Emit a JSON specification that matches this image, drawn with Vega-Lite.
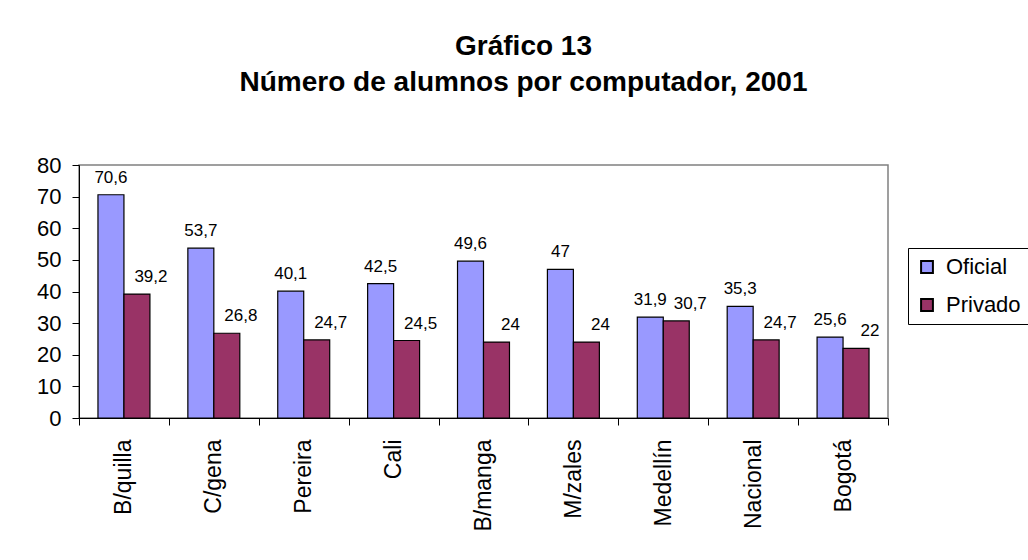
{
  "$schema": "https://vega.github.io/schema/vega-lite/v6.json",
  "autosize": {"type": "none"},
  "width": 809,
  "height": 253,
  "padding": {"left": 79, "top": 165, "right": 140, "bottom": 142},
  "background": "white",
  "config": {
    "font": "Liberation Sans",
    "locale": {"number": {"decimal": ",", "thousands": ".", "grouping": [3], "currency": ["$", ""]}},
    "view": {"stroke": "#808080", "strokeWidth": 1.5}
  },
  "title": {
    "text": ["Gráfico 13", "Número de alumnos por computador, 2001"],
    "font": "Liberation Sans",
    "fontSize": 28,
    "fontWeight": "bold",
    "color": "black",
    "anchor": "middle",
    "dx": 40,
    "lineHeight": 36,
    "offset": 57
  },
  "data": {
    "values": [
      {"ciudad": "B/quilla", "tipo": "Oficial", "valor": 70.6},
      {"ciudad": "B/quilla", "tipo": "Privado", "valor": 39.2},
      {"ciudad": "C/gena", "tipo": "Oficial", "valor": 53.7},
      {"ciudad": "C/gena", "tipo": "Privado", "valor": 26.8},
      {"ciudad": "Pereira", "tipo": "Oficial", "valor": 40.1},
      {"ciudad": "Pereira", "tipo": "Privado", "valor": 24.7},
      {"ciudad": "Cali", "tipo": "Oficial", "valor": 42.5},
      {"ciudad": "Cali", "tipo": "Privado", "valor": 24.5},
      {"ciudad": "B/manga", "tipo": "Oficial", "valor": 49.6},
      {"ciudad": "B/manga", "tipo": "Privado", "valor": 24},
      {"ciudad": "M/zales", "tipo": "Oficial", "valor": 47},
      {"ciudad": "M/zales", "tipo": "Privado", "valor": 24},
      {"ciudad": "Medellín", "tipo": "Oficial", "valor": 31.9},
      {"ciudad": "Medellín", "tipo": "Privado", "valor": 30.7},
      {"ciudad": "Nacional", "tipo": "Oficial", "valor": 35.3},
      {"ciudad": "Nacional", "tipo": "Privado", "valor": 24.7},
      {"ciudad": "Bogotá", "tipo": "Oficial", "valor": 25.6},
      {"ciudad": "Bogotá", "tipo": "Privado", "valor": 22}
    ]
  },
  "encoding": {
    "x": {
      "field": "ciudad", "type": "nominal", "sort": null,
      "scale": {"paddingInner": 0, "paddingOuter": 0},
      "axis": {
        "title": null, "labelAngle": -90, "labelFontSize": 23, "labelColor": "black",
        "tickBand": "extent", "tickSize": 7, "tickColor": "black", "domainColor": "black",
        "labelPadding": 14
      }
    },
    "xOffset": {"field": "tipo", "type": "nominal", "scale": {"paddingOuter": 0.73, "paddingInner": 0}},
    "y": {
      "field": "valor", "type": "quantitative",
      "scale": {"domain": [0, 80], "nice": false},
      "axis": {
        "title": null, "grid": false, "values": [0, 10, 20, 30, 40, 50, 60, 70, 80],
        "labelFontSize": 22, "labelColor": "black", "tickSize": 7, "tickColor": "black",
        "domainColor": "black", "labelPadding": 11
      }
    }
  },
  "layer": [
    {
      "mark": {"type": "bar", "stroke": "black", "strokeWidth": 1.2},
      "encoding": {
        "color": {
          "field": "tipo", "type": "nominal",
          "scale": {"domain": ["Oficial", "Privado"], "range": ["#9999FF", "#993366"]},
          "legend": {
            "title": null, "orient": "none", "legendX": 829, "legendY": 83,
            "strokeColor": "black", "padding": 8, "fillColor": "white",
            "symbolType": "square", "symbolSize": 140, "symbolStrokeColor": "black", "symbolStrokeWidth": 2,
            "labelFontSize": 22, "labelColor": "black", "labelOffset": 8, "rowPadding": 16
          }
        }
      }
    },
    {
      "transform": [{"filter": "datum.tipo === 'Oficial'"}],
      "mark": {"type": "text", "fontSize": 17, "baseline": "alphabetic", "dy": -12, "color": "black"},
      "encoding": {"text": {"field": "valor", "type": "quantitative"}}
    },
    {
      "transform": [{"filter": "datum.tipo === 'Privado'"}],
      "mark": {"type": "text", "fontSize": 17, "baseline": "alphabetic", "dy": -12, "dx": 14, "color": "black"},
      "encoding": {"text": {"field": "valor", "type": "quantitative"}}
    }
  ]
}
